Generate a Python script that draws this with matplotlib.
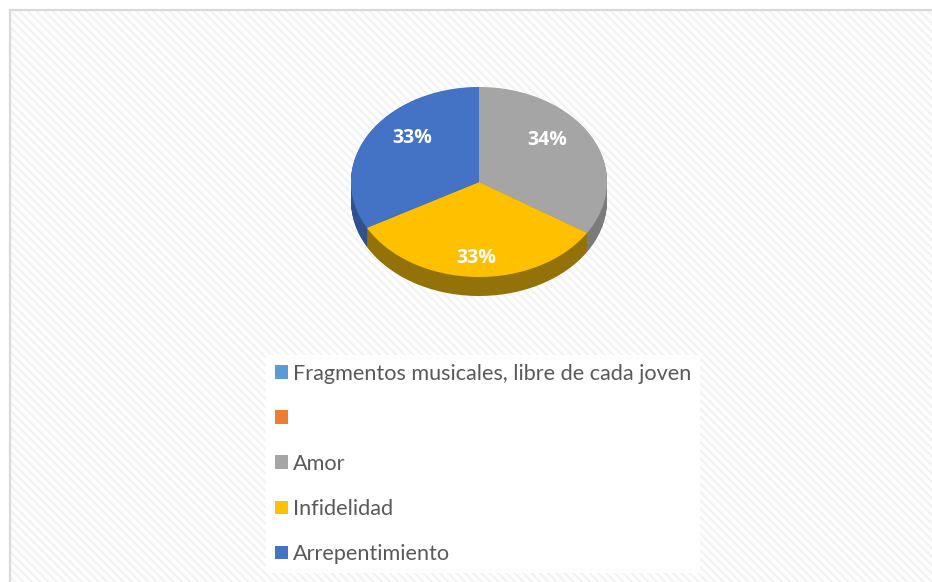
import numpy as np
import matplotlib
matplotlib.use("Agg")
from matplotlib import pyplot as plt
from matplotlib.patches import Rectangle

labels = ["Fragmentos musicales, libre de cada joven", "", "Amor", "Infidelidad", "Arrepentimiento"]
values = [0, 0, 34, 33, 33]
top_colors = ["#5b9bd5", "#ed7d31", "#a5a5a5", "#ffc000", "#4472c4"]
side_colors = ["#41719c", "#ae5a21", "#7b7b7b", "#94720a", "#2f528f"]

W, H = 932, 582
plt.rcParams["font.family"] = ["Lato", "DejaVu Sans"]
plt.rcParams["hatch.linewidth"] = 1.5

fig = plt.figure(figsize=(W / 100, H / 100), dpi=100)
fig.patch.set_facecolor("white")

# chart area: white with faint diagonal stripes and a light border
fig.patches.append(Rectangle((10 / W, -0.01), 1.02, 1 - 10 / H + 0.01, transform=fig.transFigure,
                             facecolor="white", edgecolor="#f2f2f2", hatch="\\\\\\\\", linewidth=0, zorder=-2))
fig.patches.append(Rectangle((10 / W, -0.01), 1.02, 1 - 10 / H + 0.01, transform=fig.transFigure,
                             facecolor="none", edgecolor="#d9d9d9", linewidth=1.5, zorder=-1))

# pie axes: unit circle squashed into an ellipse
left, top, right, bottom = 351, 87, 607, 300
ax = fig.add_axes([left / W, 1 - bottom / H, (right - left) / W, (bottom - top) / H])
ax.patch.set_alpha(0)

depth = 0.2
for k in np.linspace(depth, 0.005, 25):
    ax.pie(values, colors=side_colors, startangle=90, counterclock=False,
           center=(0, -k), wedgeprops=dict(linewidth=0))

wedges, _, autotexts = ax.pie(values, colors=top_colors, startangle=90, counterclock=False,
                              wedgeprops=dict(linewidth=0),
                              autopct=lambda p: f"{p:.0f}%" if p > 0 else "",
                              pctdistance=0.7,
                              textprops=dict(color="white", fontsize=14, fontweight="bold",
                                             family="Open Sans"))
for t in autotexts:
    x, y = t.get_position()
    if y < 0:
        t.set_position((x, y * 1.15))
    else:
        t.set_position((x * 0.87, y * 1.3))

ax.set_aspect("auto")
ax.set_xlim(-1, 1)
ax.set_ylim(-1 - (bottom - top - 190) / 95, 1)
ax.axis("off")

leg = fig.legend(wedges, labels, loc="upper left", bbox_to_anchor=(266 / W, 1 - 355 / H),
                 frameon=True, facecolor="white", edgecolor="none", framealpha=1, fancybox=False,
                 fontsize=15.6, labelcolor="#595959", handlelength=0.6, handleheight=0.6,
                 handletextpad=0.25, labelspacing=1.16, borderpad=0.4, borderaxespad=0)
leg.get_frame().set_linewidth(0)

fig.savefig("out.png", dpi=100)
